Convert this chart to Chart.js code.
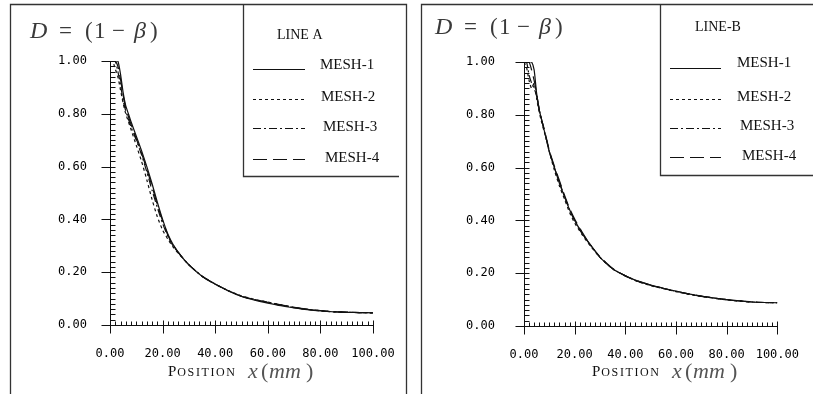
<!DOCTYPE html>
<html>
<head>
<meta charset="utf-8">
<script src="https://cdn.jsdelivr.net/npm/chart.js@4"></script>
<style>
  html, body { margin: 0; padding: 0; background: #fff; }
  #wrap { position: relative; width: 813px; height: 394px; overflow: hidden; }
  canvas { position: absolute; top: 0; }
</style>
</head>
<body>
<div id="wrap">
  <canvas id="chartA" width="410" height="394" style="left:0px"></canvas>
  <canvas id="chartB" width="403" height="394" style="left:410px"></canvas>
</div>
<script>
// data
const meshNames = ['MESH-1', 'MESH-2', 'MESH-3', 'MESH-4'];
const xTicks = [0, 20, 40, 60, 80, 100];
const yTicks = [0, 0.2, 0.4, 0.6, 0.8, 1.0];

// LINE A
const posA = [0, 1, 2, 3, 4, 5, 6, 7, 8, 10, 12, 14, 16, 18, 20, 22, 24, 27, 30, 35, 40, 45, 50, 55, 60, 65, 70, 75, 80, 85, 90, 95, 100];
const lineA_mesh1 = [1, 1, 1, 1, 0.95, 0.88, 0.83, 0.80, 0.77, 0.715, 0.66, 0.60, 0.535, 0.465, 0.40, 0.345, 0.305, 0.262, 0.228, 0.185, 0.155, 0.129, 0.108, 0.094, 0.083, 0.073, 0.065, 0.058, 0.053, 0.05, 0.048, 0.047, 0.046];
const lineA_mesh2 = [1, 1, 0.97, 0.94, 0.89, 0.84, 0.80, 0.77, 0.74, 0.68, 0.62, 0.55, 0.475, 0.41, 0.36, 0.325, 0.295, 0.26, 0.228, 0.185, 0.155, 0.13, 0.11, 0.097, 0.087, 0.076, 0.067, 0.059, 0.054, 0.05, 0.048, 0.047, 0.046];
const lineA_mesh3 = [1, 1, 1, 0.96, 0.91, 0.85, 0.81, 0.78, 0.75, 0.70, 0.645, 0.58, 0.51, 0.445, 0.385, 0.335, 0.30, 0.262, 0.228, 0.185, 0.154, 0.13, 0.109, 0.096, 0.086, 0.075, 0.066, 0.059, 0.054, 0.05, 0.048, 0.047, 0.046];
const lineA_mesh4 = [1, 1, 1, 0.98, 0.93, 0.87, 0.82, 0.79, 0.76, 0.705, 0.65, 0.59, 0.525, 0.455, 0.395, 0.34, 0.302, 0.262, 0.228, 0.185, 0.155, 0.13, 0.109, 0.096, 0.086, 0.076, 0.067, 0.06, 0.055, 0.051, 0.049, 0.047, 0.046];

// LINE-B
const posB = [0, 1, 2, 3, 4, 5, 6, 7, 8, 9, 10, 12, 14, 16, 18, 20, 23, 26, 30, 35, 40, 45, 50, 55, 60, 65, 70, 75, 80, 85, 90, 95, 100];
const lineB_mesh1 = [1, 1, 1, 1, 0.97, 0.88, 0.82, 0.78, 0.74, 0.70, 0.66, 0.60, 0.54, 0.49, 0.44, 0.40, 0.35, 0.31, 0.26, 0.217, 0.19, 0.17, 0.155, 0.143, 0.132, 0.122, 0.113, 0.106, 0.10, 0.095, 0.091, 0.089, 0.088];
const lineB_mesh2 = [1, 0.98, 0.93, 0.90, 0.92, 0.86, 0.81, 0.77, 0.735, 0.70, 0.66, 0.59, 0.53, 0.48, 0.43, 0.39, 0.345, 0.305, 0.26, 0.216, 0.19, 0.168, 0.153, 0.141, 0.13, 0.12, 0.112, 0.105, 0.099, 0.094, 0.091, 0.089, 0.088];
const lineB_mesh3 = [1, 1, 0.95, 0.92, 0.90, 0.87, 0.82, 0.78, 0.74, 0.70, 0.66, 0.60, 0.545, 0.49, 0.44, 0.40, 0.35, 0.31, 0.26, 0.217, 0.19, 0.169, 0.154, 0.142, 0.131, 0.121, 0.112, 0.106, 0.10, 0.095, 0.091, 0.089, 0.088];
const lineB_mesh4 = [1, 1, 1, 0.97, 0.93, 0.88, 0.82, 0.78, 0.745, 0.705, 0.665, 0.605, 0.55, 0.495, 0.445, 0.405, 0.355, 0.31, 0.262, 0.218, 0.19, 0.17, 0.155, 0.143, 0.132, 0.122, 0.113, 0.106, 0.1, 0.095, 0.091, 0.089, 0.088];

const dashes = [[], [3, 3], [8, 3, 2, 3], [14, 6]];
const INK = '#111';
const SERIF = '"Liberation Serif", "DejaVu Serif", serif';
const MONO = '"DejaVu Sans Mono", "Liberation Mono", monospace';

// frame, legend box, ticks and math labels
const decor = {
  id: 'decor',
  afterDraw(chart, args, p) {
    const ctx = chart.ctx;
    const xs = chart.scales.x, ys = chart.scales.y;
    const W = chart.width;
    ctx.save();
    ctx.strokeStyle = '#333';
    ctx.lineWidth = 1.3;
    // panel frame (open at the bottom)
    ctx.beginPath();
    ctx.moveTo(p.frameL, 394); ctx.lineTo(p.frameL, p.frameT);
    ctx.lineTo(p.frameR, p.frameT);
    if (p.frameR < W) ctx.lineTo(p.frameR, 394);
    ctx.stroke();
    // legend box
    ctx.beginPath();
    ctx.moveTo(p.boxL, p.frameT); ctx.lineTo(p.boxL, p.boxB); ctx.lineTo(p.boxR, p.boxB);
    ctx.stroke();

    // axes
    ctx.strokeStyle = INK;
    ctx.lineWidth = 1;
    const x0 = Math.round(xs.getPixelForValue(0)) + 0.5;
    const y0 = Math.round(ys.getPixelForValue(0)) + 0.5;
    ctx.beginPath();
    ctx.moveTo(x0, Math.round(ys.getPixelForValue(1))); ctx.lineTo(x0, y0);
    ctx.moveTo(x0, y0); ctx.lineTo(Math.round(xs.getPixelForValue(100)) + 1, y0);
    ctx.stroke();
    ctx.beginPath();
    for (let i = 0; i <= 50; i++) {
      const v = i * 0.02;
      const y = Math.round(ys.getPixelForValue(v)) + 0.5;
      if (i % 10 === 0) { ctx.moveTo(x0 - 9, y); ctx.lineTo(x0 + 5, y); }
      else { ctx.moveTo(x0, y); ctx.lineTo(x0 + 5, y); }
    }
    for (let i = 0; i <= 50; i++) {
      const v = i * 2;
      const x = Math.round(xs.getPixelForValue(v)) + 0.5;
      if (i % 10 === 0) { ctx.moveTo(x, y0 - 5); ctx.lineTo(x, y0 + 8); }
      else { ctx.moveTo(x, y0 - 4); ctx.lineTo(x, y0); }
    }
    ctx.stroke();

    // legend entries
    ctx.fillStyle = INK;
    ctx.textBaseline = 'middle';
    ctx.font = '14px ' + SERIF;
    ctx.fillText(p.legTitle, p.legTitleX, p.legTitleY);
    ctx.font = '15px ' + SERIF;
    chart.data.datasets.forEach((ds, i) => {
      const r = p.rows[i];
      ctx.beginPath();
      ctx.setLineDash(ds.borderDash);
      ctx.lineWidth = 1.2;
      ctx.moveTo(p.lineX0, r[0]); ctx.lineTo(p.lineX1, r[0]);
      ctx.stroke();
      ctx.setLineDash([]);
      ctx.fillText(ds.label, r[1], r[2]);
    });

    // title D = (1 - beta)
    ctx.fillStyle = '#3a3a3a';
    const tx = p.titleX, ty = p.titleY;
    const up = '23px ' + SERIF, it = 'italic 24px ' + SERIF;
    [['D', 0, it], ['=', 29, up], ['(', 55, up], ['1', 64, up], ['\u2212', 82, up], ['\u03b2', 104, it], [')', 120, up]]
      .forEach(g => { ctx.font = g[2]; ctx.fillText(g[0], tx + g[1], ty); });

    // axis title: POSITION x(mm)
    ctx.fillStyle = INK;
    const lx = p.labX, ly = p.labY;
    ctx.font = '15px ' + SERIF;
    ctx.fillText('P', lx, ly);
    let cx = lx + ctx.measureText('P').width + 1;
    ctx.font = '12px ' + SERIF;
    for (const ch of 'OSITION') {
      ctx.fillText(ch, cx, ly + 1);
      cx += ctx.measureText(ch).width + 1.6;
    }
    ctx.fillStyle = '#555';
    const mu = '22px ' + SERIF, mi = 'italic 22px ' + SERIF;
    [['x', 80, mi], ['(', 93, mu], ['m', 101, mi], ['m', 117, mi], [')', 138, mu]]
      .forEach(g => { ctx.font = g[2]; ctx.fillText(g[0], lx + g[1], ly); });
    ctx.restore();
  }
};

function makeChart(id, xs, seriesList, p) {
  const canvas = document.getElementById(id);
  const W = canvas.width, H = canvas.height;
  return new Chart(canvas, {
    type: 'line',
    data: {
      datasets: seriesList.map((ys, i) => ({
        label: meshNames[i],
        data: xs.map((x, k) => ({ x: x, y: ys[k] })),
        borderColor: INK,
        borderWidth: 1.2,
        borderDash: dashes[i],
        pointRadius: 0,
        tension: 0.2,
        fill: false
      }))
    },
    options: {
      responsive: false,
      animation: false,
      devicePixelRatio: 1,
      layout: { padding: { left: 0, top: p.top, right: W - p.right, bottom: 0 } },
      plugins: { legend: { display: false }, tooltip: { enabled: false }, decor: p },
      scales: {
        x: {
          type: 'linear', min: 0, max: 100,
          afterBuildTicks: s => { s.ticks = xTicks.map(v => ({ value: v })); },
          afterFit: s => { s.height = H - p.bottom; },
          grid: { display: false }, border: { display: false },
          ticks: {
            autoSkip: false, maxRotation: 0, padding: 14, color: '#000',
            font: { family: MONO, size: 12 },
            callback: v => v.toFixed(2)
          }
        },
        y: {
          type: 'linear', min: 0, max: 1,
          afterBuildTicks: s => { s.ticks = yTicks.map(v => ({ value: v })); },
          afterFit: s => { s.width = p.left; },
          grid: { display: false }, border: { display: false },
          ticks: {
            padding: p.yPad, color: '#000',
            font: { family: MONO, size: 12 },
            callback: v => v.toFixed(2)
          }
        }
      }
    },
    plugins: [decor]
  });
}

makeChart('chartA', posA, [lineA_mesh1, lineA_mesh2, lineA_mesh3, lineA_mesh4], {
  left: 110, right: 373, top: 61, bottom: 325, yPad: 15,
  frameL: 10.5, frameR: 406.5, frameT: 4.5,
  boxL: 243.5, boxB: 176.5, boxR: 399,
  legTitle: 'LINE A', legTitleX: 277, legTitleY: 35,
  lineX0: 253, lineX1: 305,
  rows: [[69.5, 320, 65], [99.5, 321, 97], [128.5, 323, 127], [159.5, 325, 158]],
  titleX: 30, titleY: 32, labX: 168, labY: 372
});

makeChart('chartB', posB, [lineB_mesh1, lineB_mesh2, lineB_mesh3, lineB_mesh4], {
  left: 114, right: 377, top: 62, bottom: 326, yPad: 21,
  frameL: 11.5, frameR: 420, frameT: 4.5,
  boxL: 250.5, boxB: 175.5, boxR: 403,
  legTitle: 'LINE-B', legTitleX: 285, legTitleY: 27,
  lineX0: 260, lineX1: 311,
  rows: [[68.5, 327, 63], [99.5, 327, 97], [128.5, 330, 126], [157.5, 332, 156]],
  titleX: 25, titleY: 28, labX: 182, labY: 372
});
</script>
</body>
</html>
